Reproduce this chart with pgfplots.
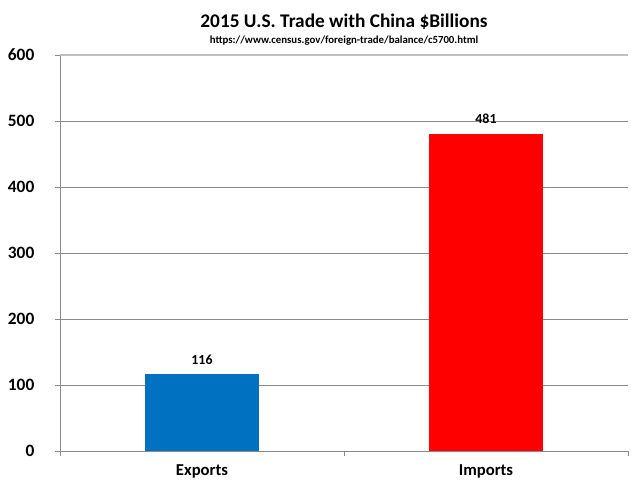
\documentclass[border=0pt]{standalone}
\usepackage{pgfplots}
\pgfplotsset{compat=1.18}
\usepackage{fontspec}
\setmainfont{Carlito}
\definecolor{expblue}{HTML}{0070C0}
\definecolor{impred}{HTML}{FF0000}
\definecolor{gridgray}{HTML}{898989}
\definecolor{lightgray}{HTML}{C0C0C0}
\begin{document}
\begin{tikzpicture}
\begin{axis}[
  scale only axis,
  width=426pt, height=297pt,
  xmin=-0.5, xmax=1.5,
  ymin=0, ymax=600,
  ytick={0,100,...,500},
  extra y ticks={600},
  extra y tick style={grid style={lightgray,line width=0.8pt}, major tick style={lightgray,line width=0.8pt}},
  xtick={0,1},
  xticklabels={Exports,Imports},
  minor xtick={-0.5,0.5,1.5},
  major x tick style={draw=none},
  minor x tick style={gridgray,line width=0.6pt},
  minor tick length=3.75pt,
  major tick length=3.75pt,
  tick align=outside,
  ytick style={gridgray,line width=0.6pt},
  ymajorgrids,
  grid style={gridgray,line width=0.6pt},
  axis x line*=bottom,
  axis y line*=left,
  axis line style={gridgray,line width=0.6pt},
  y axis line style={-},
  x axis line style={-},
  yticklabel style={font=\fontsize{13}{15}\selectfont\bfseries, xshift=-12pt},
  xticklabel style={font=\fontsize{12.5}{15}\selectfont\bfseries, yshift=-3pt},
  /pgf/number format/assume math mode=true,
  ybar, bar width=0.40, bar shift=0pt,
  nodes near coords,
  every node near coord/.append style={font=\fontsize{10.4}{12}\selectfont\bfseries, yshift=4pt},
  clip=false,
]
\addplot[fill=expblue, draw=none] coordinates {(0,116)};
\addplot[fill=impred, draw=none] coordinates {(1,481)};
\node[font=\fontsize{14.5}{16}\selectfont\bfseries, anchor=base] at (rel axis cs:0.5,1.0707) {2015 U.S. Trade with China \$Billions};
\node[font=\fontsize{8.1}{9}\selectfont\bfseries, anchor=base] at (rel axis cs:0.5,1.0303) {https://www.census.gov/foreign-trade/balance/c5700.html};
\end{axis}
\pgfresetboundingbox
\path (-45pt,-29.25pt) rectangle (435pt,338.25pt);
\end{tikzpicture}
\end{document}
